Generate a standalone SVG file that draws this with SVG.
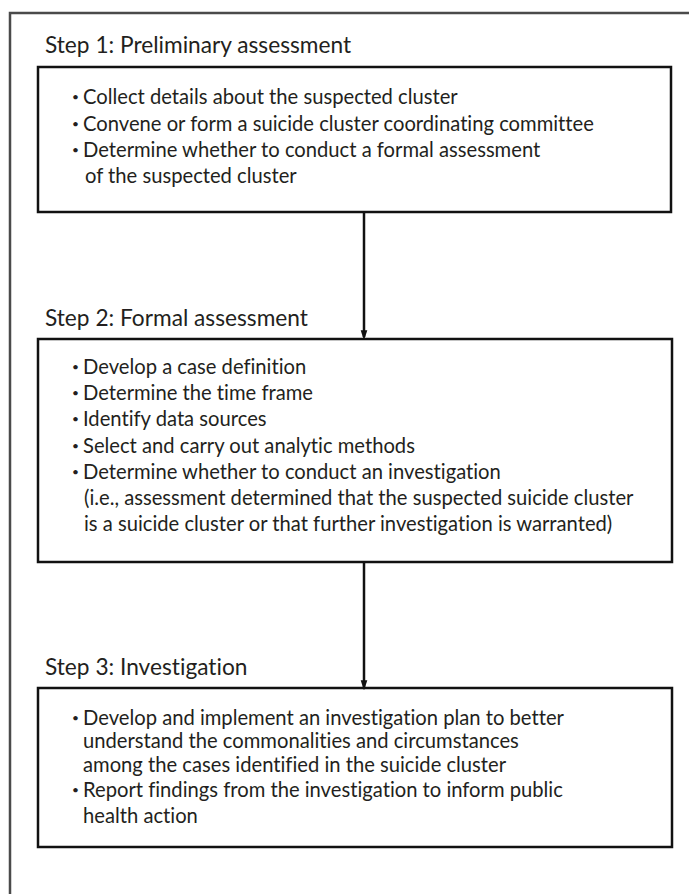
<svg xmlns="http://www.w3.org/2000/svg" width="689" height="894" viewBox="0 0 689 894">
<style>
.frame{fill:none;stroke:#4a4a4a;stroke-width:2.5}
.box{fill:#fff;stroke:#111;stroke-width:2.5}
.lbl{font-family:Lato,"Liberation Sans",sans-serif;font-size:22.7px;fill:#231f20;font-variant-ligatures:none}
.txt{font-family:Lato,"Liberation Sans",sans-serif;font-size:20.2px;fill:#231f20;font-variant-ligatures:none}
.b{font-size:12px}
.conn{stroke:#111;stroke-width:2.5;fill:none}
</style>
<defs>
<marker id="arr" markerWidth="10" markerHeight="15" refX="10" refY="5" orient="auto" markerUnits="userSpaceOnUse" viewBox="0 0 15 10">
<path d="M0,0 L15,5 L0,10 Z" fill="#111"/>
</marker>
</defs>
<rect class="frame" x="10" y="13" width="700" height="900"/>
<g id="step1">
<text class="lbl" x="45" y="53">Step 1: Preliminary assessment</text>
<rect class="box" x="38" y="67" width="633" height="145"/>
<text class="txt"><tspan class="b" x="72" y="101">•</tspan><tspan x="83" y="104">Collect details about the suspected cluster</tspan><tspan class="b" x="72" y="128">•</tspan><tspan x="83" y="131">Convene or form a suicide cluster coordinating committee</tspan><tspan class="b" x="72" y="154">•</tspan><tspan x="83" y="157">Determine whether to conduct a formal assessment</tspan><tspan x="85" y="183">of the suspected cluster</tspan></text>
</g>
<g id="step2">
<text class="lbl" x="45" y="326">Step 2: Formal assessment</text>
<rect class="box" x="38" y="339" width="634" height="223"/>
<text class="txt"><tspan class="b" x="72" y="371">•</tspan><tspan x="83" y="374">Develop a case definition</tspan><tspan class="b" x="72" y="397">•</tspan><tspan x="83" y="400">Determine the time frame</tspan><tspan class="b" x="72" y="423">•</tspan><tspan x="83" y="426">Identify data sources</tspan><tspan class="b" x="72" y="450">•</tspan><tspan x="83" y="453">Select and carry out analytic methods</tspan><tspan class="b" x="72" y="476">•</tspan><tspan x="83" y="479">Determine whether to conduct an investigation</tspan><tspan x="84" y="505">(i.e., assessment determined that the suspected suicide cluster</tspan><tspan x="84" y="531">is a suicide cluster or that further investigation is warranted)</tspan></text>
</g>
<g id="step3">
<text class="lbl" x="45" y="675">Step 3: Investigation</text>
<rect class="box" x="38" y="688" width="634" height="159"/>
<text class="txt"><tspan class="b" x="72" y="722">•</tspan><tspan x="83" y="725">Develop and implement an investigation plan to better</tspan><tspan x="83" y="748">understand the commonalities and circumstances</tspan><tspan x="83" y="772">among the cases identified in the suicide cluster</tspan><tspan class="b" x="72" y="794">•</tspan><tspan x="83" y="797">Report findings from the investigation to inform public</tspan><tspan x="83" y="823">health action</tspan></text>
</g>
<g id="connectors">
<line class="conn" x1="364" y1="212" x2="364" y2="337" marker-end="url(#arr)"/>
<line class="conn" x1="364" y1="562" x2="364" y2="687" marker-end="url(#arr)"/>
</g>
</svg>
